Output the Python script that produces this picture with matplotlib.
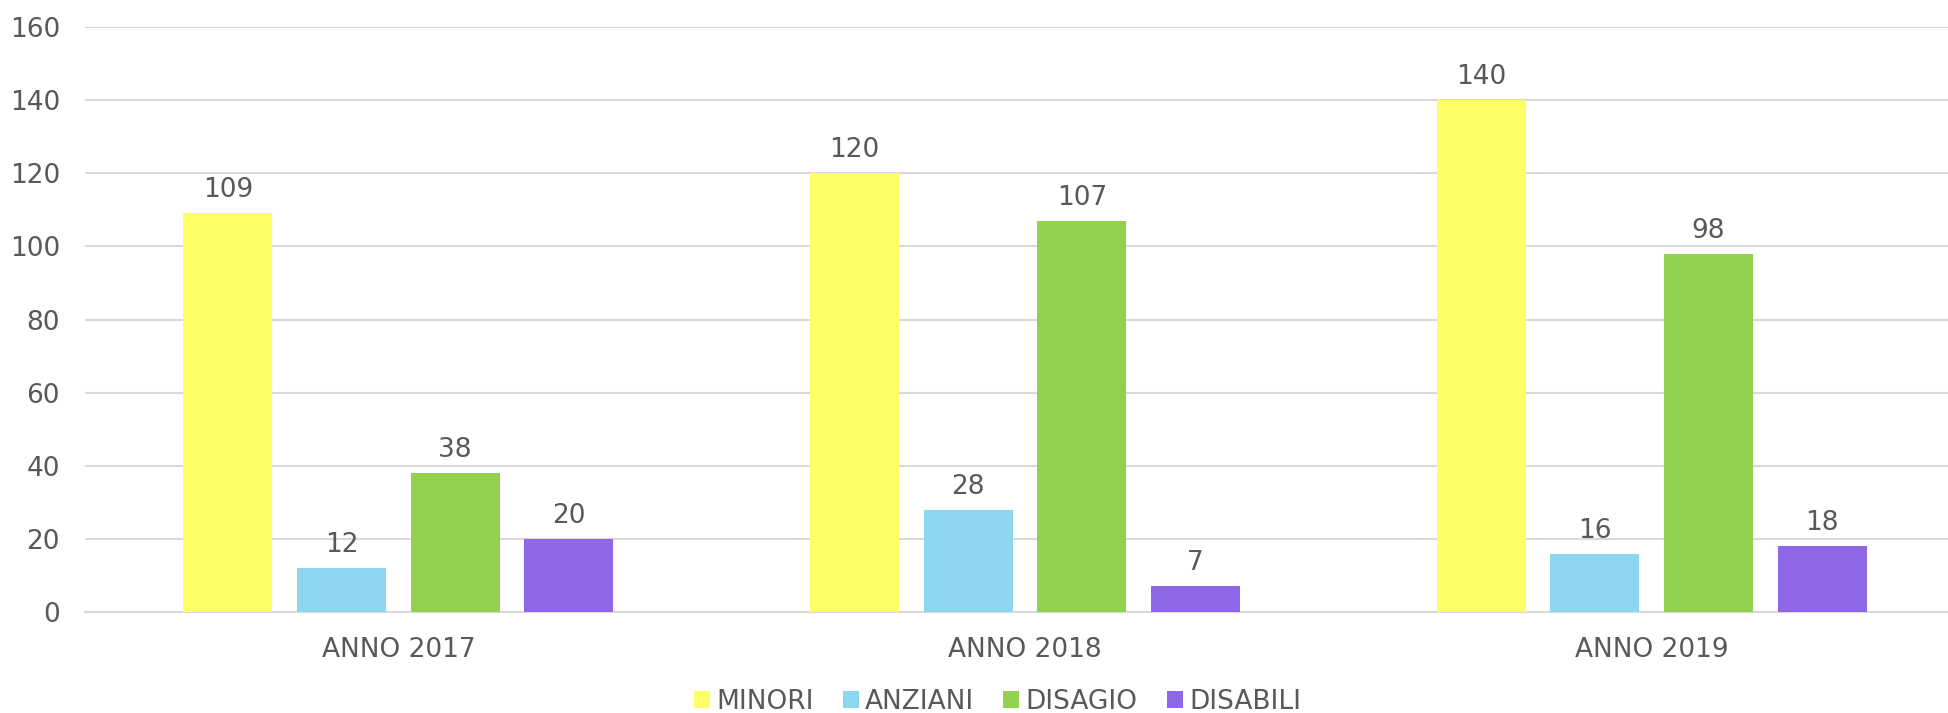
import matplotlib
matplotlib.use("Agg")
import matplotlib.pyplot as plt
import numpy as np

categories = ["ANNO 2017", "ANNO 2018", "ANNO 2019"]
series_names = ["MINORI", "ANZIANI", "DISAGIO", "DISABILI"]
minori = [109, 120, 140]
anziani = [12, 28, 16]
disagio = [38, 107, 98]
disabili = [20, 7, 18]
colors = ["#FFFF66", "#8DD6F0", "#92D050", "#8E67E8"]
yticks = [0, 20, 40, 60, 80, 100, 120, 140, 160]

plt.rcParams['font.family'] = ['DejaVu Sans']
txt = "#595959"
fs = 19

fig = plt.figure(figsize=(19.49, 7.13), dpi=100)
ax = fig.add_axes([85/1949, 1 - 612/713, 1880/1949, 585/713])

x = np.arange(len(categories))
bw = 0.142
pitch = 0.1813
data = [minori, anziani, disagio, disabili]
for i, (vals, name, c) in enumerate(zip(data, series_names, colors)):
    off = (i - 1.5) * pitch
    bars = ax.bar(x + off, vals, bw, color=c, label=name, zorder=3)
    for b, v in zip(bars, vals):
        ax.annotate(str(v), (b.get_x() + b.get_width() / 2, v), xytext=(0, 11.5),
                    textcoords="offset points", ha="center", va="baseline",
                    fontsize=fs, color=txt)

ax.set_xlim(-0.5, 2.5)
ax.set_ylim(0, 160)
ax.set_yticks(yticks)
ax.set_xticks(x)
ax.set_xticklabels(categories)
ax.tick_params(axis="both", length=0, labelsize=fs, labelcolor=txt)
ax.tick_params(axis="y", pad=18)
ax.tick_params(axis="x", pad=18)
ax.grid(axis="y", color="#D9D9D9", linewidth=1.5, zorder=0)
for s in ["top", "right", "left"]:
    ax.spines[s].set_visible(False)
ax.spines["bottom"].set_color("#D9D9D9")
ax.spines["bottom"].set_linewidth(1.5)

leg = fig.legend(loc="center", bbox_to_anchor=(997.5/1949, 1 - 702/713), ncol=4, frameon=False,
                 fontsize=fs, handlelength=0.6, handleheight=0.64, handletextpad=0.25,
                 columnspacing=1.1, labelcolor=txt, borderpad=0, borderaxespad=0)

fig.savefig("out.png", dpi=100)
